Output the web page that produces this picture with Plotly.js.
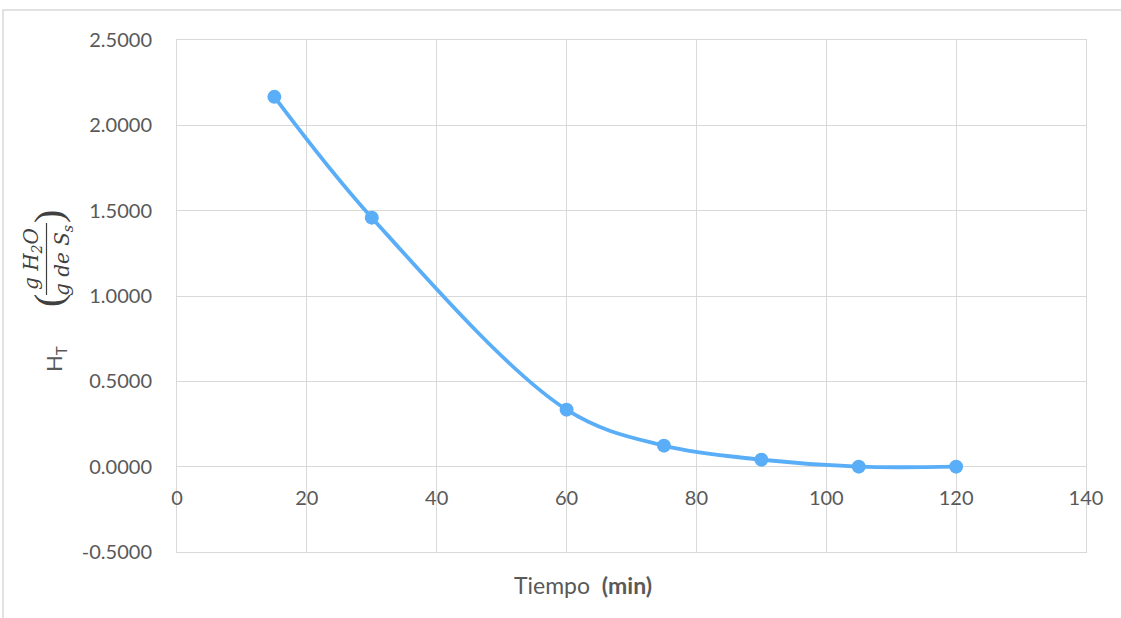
<!DOCTYPE html>
<html>
<head>
<meta charset="utf-8">
<script src="https://cdn.plot.ly/plotly-3.0.1.min.js"></script>
<style>html,body{margin:0;padding:0;background:#fff;}#chart{width:1121px;height:618px;}</style>
</head>
<body>
<div id="chart"></div>
<script>
// Data
const tiempo = [15, 30, 60, 75, 90, 105, 120];
const humedad = [2.1670, 1.4590, 0.3340, 0.1230, 0.0410, 0.0000, 0.0000];

const xTicks = [0, 20, 40, 60, 80, 100, 120, 140];
const yTicks = [-0.5, 0, 0.5, 1.0, 1.5, 2.0, 2.5];
const yTickText = yTicks.map(v => v.toFixed(4));

const W = 1121, H = 618;
const L = 177, R = 1086, T = 40, B = 552;
const px = v => (v - L) / (R - L);
const py = v => (B - v) / (B - T);

const grid = '#d9d9d9';
const txt = '#595959';
const blue = '#5aaef7';
const font = 'Lato, "Open Sans", sans-serif';
const mathFont = '"DejaVu Serif", "Liberation Serif", serif';
const dark = '#404040';

const trace = {
  x: tiempo, y: humedad, type: 'scatter', mode: 'lines+markers',
  line: {color: blue, width: 3.8, shape: 'spline', smoothing: 1},
  marker: {color: blue, size: 14},
  xaxis: 'x', yaxis: 'y', showlegend: false, hoverinfo: 'x+y'
};
// helper trace for the tick axis placed at y = 0
const trace2 = {x: [0, 140], y: [0, 0], xaxis: 'x2', yaxis: 'y', mode: 'none', showlegend: false, hoverinfo: 'skip'};

const layout = {
  width: W, height: H,
  margin: {l: L, r: W - R, t: T, b: H - B},
  paper_bgcolor: '#fff', plot_bgcolor: '#fff',
  font: {family: font, color: txt, size: 20},
  xaxis: {
    range: [0, 140], tickvals: xTicks, showticklabels: false,
    showgrid: true, gridcolor: grid, gridwidth: 1,
    zeroline: true, zerolinecolor: grid, zerolinewidth: 1,
    showline: true, mirror: true, linecolor: grid, linewidth: 1,
    ticks: '', automargin: false
  },
  xaxis2: {
    range: [0, 140], tickvals: xTicks, overlaying: 'x', anchor: 'free', position: py(467),
    showgrid: false, zeroline: false, showline: false, ticks: '', ticklabelstandoff: 17,
    tickfont: {size: 20, color: txt, family: font}, automargin: false
  },
  yaxis: {
    range: [-0.5, 2.5], tickvals: yTicks, ticktext: yTickText,
    showgrid: true, gridcolor: grid, gridwidth: 1,
    zeroline: true, zerolinecolor: grid, zerolinewidth: 1.5,
    showline: true, mirror: true, linecolor: grid, linewidth: 1,
    ticks: '', ticklabelstandoff: 20, automargin: false,
    tickfont: {size: 20, color: txt, family: font}
  },
  shapes: [
    {type: 'rect', xref: 'paper', yref: 'paper', x0: px(3), x1: px(1130), y0: py(630), y1: py(10),
     line: {color: '#d9d9d9', width: 1.5}, fillcolor: 'rgba(0,0,0,0)', layer: 'below'},
    {type: 'line', xref: 'paper', yref: 'paper', x0: px(46.5), x1: px(46.5), y0: py(295), y1: py(223),
     line: {color: dark, width: 1.2}}
  ],
  annotations: [
    // x axis title
    {xref: 'paper', yref: 'paper', x: px(583), y: py(585), xanchor: 'center', yanchor: 'middle',
     text: 'Tiempo  <b>(min)</b>', showarrow: false, font: {size: 23, color: txt, family: font}},
    // y axis title: H_T
    {xref: 'paper', yref: 'paper', x: px(55), y: py(359), xanchor: 'center', yanchor: 'middle',
     text: 'H<sub>T</sub>', textangle: -90, showarrow: false, font: {size: 22, color: txt, family: font}},
    // unit fraction (g H2O / g de Ss)
    {xref: 'paper', yref: 'paper', x: px(32), y: py(259), xanchor: 'center', yanchor: 'middle',
     text: '<i>g H<sub>2</sub>O</i>', textangle: -90, showarrow: false, font: {family: mathFont, size: 20, color: dark}},
    {xref: 'paper', yref: 'paper', x: px(63), y: py(261), xanchor: 'center', yanchor: 'middle',
     text: '<i>g de S<sub>s</sub></i>', textangle: -90, showarrow: false, font: {family: mathFont, size: 20, color: dark}},
    {xref: 'paper', yref: 'paper', x: px(48), y: py(301), xanchor: 'center', yanchor: 'middle',
     text: '(', textangle: -90, showarrow: false, font: {family: '"Liberation Serif", serif', size: 40, color: dark}},
    {xref: 'paper', yref: 'paper', x: px(48), y: py(217), xanchor: 'center', yanchor: 'middle',
     text: ')', textangle: -90, showarrow: false, font: {family: '"Liberation Serif", serif', size: 40, color: dark}}
  ]
};

Plotly.newPlot('chart', [trace, trace2], layout, {displayModeBar: false, staticPlot: true});
</script>
</body>
</html>
